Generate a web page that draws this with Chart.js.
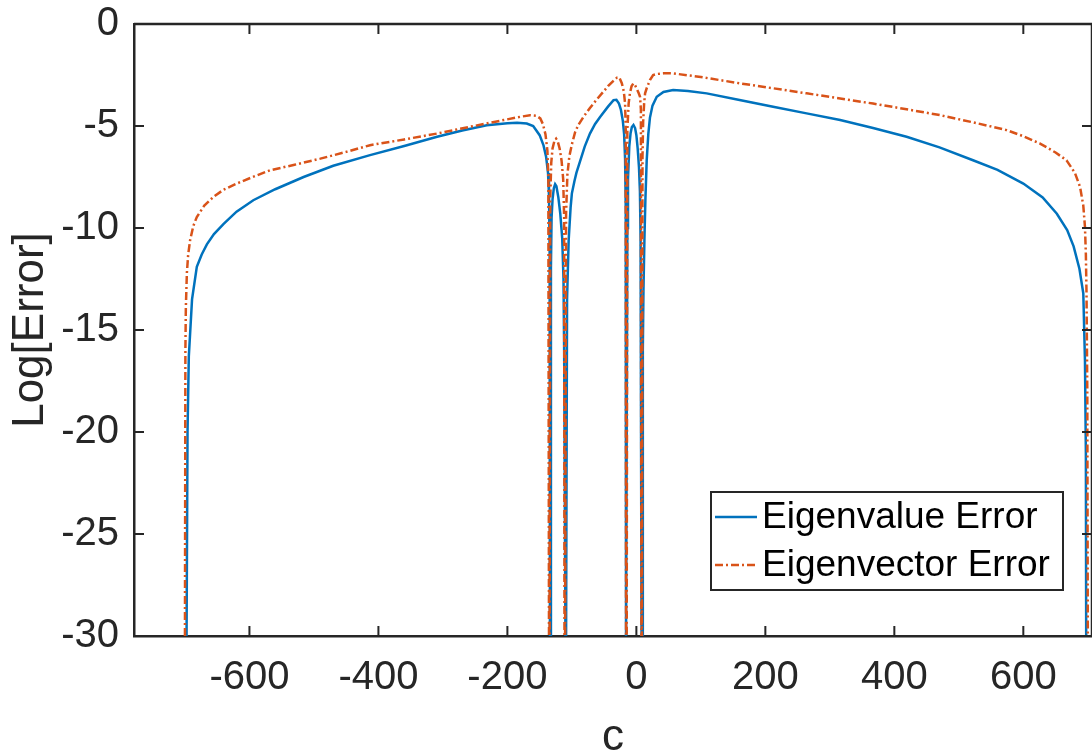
<!DOCTYPE html>
<html><head><meta charset="utf-8">
<script src="https://cdn.jsdelivr.net/npm/chart.js@4.4.1/dist/chart.umd.min.js"></script>
<style>html,body{margin:0;padding:0;background:#fff;}canvas{display:block;}</style>
</head><body>
<canvas id="c" width="1092" height="751"></canvas>
<script>
// ---- data ----
const eigenvalueC = [-697.5,-696,-694,-689,-681.6,-674,-666,-655,-640,-620,-594,-560,-516,-470,-413,-360,-309,-270,-232,-200,-185,-170,-160,-150,-144,-140,-137,-135.5,-134.5,-134,-133,-132.5,-131.5,-130,-128,-126,-124,-121,-118,-115,-113,-112,-110,-109,-107.5,-105,-102,-100,-96,-93,-87,-80,-72,-64,-56,-44,-35.5,-31,-27,-24,-21,-19,-17.5,-16.5,-16,-15,-14,-13,-11,-9,-7,-4.5,-2,0,2,4,5.5,6.5,8,9,10,11,12.5,14,16,18.5,21,25,31.6,42,57,80,109,160,212,264,316,367,419,470,522,560,600,630,652,668,678,687,693,695.6,697,697.5];
const eigenvalueErr = [-30,-20,-16.3,-13.5,-11.9,-11.3,-10.8,-10.3,-9.8,-9.2,-8.64,-8.1,-7.5,-6.95,-6.43,-5.98,-5.53,-5.22,-4.96,-4.86,-4.84,-4.88,-5.0,-5.45,-5.95,-6.5,-7.3,-8.4,-11,-30,-30,-12,-9.5,-8.6,-8.05,-7.85,-7.95,-8.5,-9.3,-10.5,-12.5,-16,-30,-30,-13.5,-10.6,-9.0,-8.3,-7.7,-7.3,-6.7,-6.0,-5.37,-4.9,-4.55,-4.05,-3.73,-3.72,-3.9,-4.2,-4.75,-5.4,-6.6,-9,-30,-30,-10,-7.6,-6.0,-5.35,-5.05,-4.95,-5.1,-5.45,-6.1,-7.0,-8.2,-10.5,-30,-30,-16,-13,-10.5,-8.6,-6.7,-5.4,-4.6,-4.0,-3.57,-3.33,-3.24,-3.28,-3.4,-3.73,-4.06,-4.38,-4.71,-5.1,-5.53,-6.05,-6.68,-7.15,-7.82,-8.5,-9.3,-10.1,-10.9,-12.0,-13.2,-16.5,-21,-30];

const eigenvectorC = [-700,-699.3,-698.6,-697,-695,-692,-687,-681.6,-670,-656,-640,-619.5,-595,-568,-530,-490,-450,-413,-360,-309,-260,-206,-180,-165,-155,-149,-145,-141,-138,-136.5,-135.5,-134.5,-133.5,-132,-130,-127,-124.5,-122,-119,-116,-113.5,-112,-111.5,-110.5,-109,-107,-104,-100,-95,-90,-82,-72,-62,-52,-44,-36,-30,-26.5,-22.6,-19.5,-17.5,-16.5,-16,-15,-14,-12,-10,-7.5,-4.6,-2,1,3.5,5.7,7,7.8,8.6,9.5,10.5,12,13.5,16,21,26,31.6,42,57,100,161,212,264,316,367,419,471,522,574,600,626,650,667,680,688,693,695.6,697,698,699.2,700];
const eigenvectorErr = [-30,-16,-13.9,-12.2,-11.3,-10.6,-9.9,-9.46,-8.9,-8.48,-8.12,-7.82,-7.5,-7.17,-6.9,-6.6,-6.27,-5.94,-5.66,-5.37,-5.05,-4.71,-4.55,-4.47,-4.5,-4.63,-4.9,-5.4,-6.2,-7.5,-30,-30,-8.5,-6.8,-6.1,-5.72,-5.62,-5.75,-6.1,-6.7,-7.6,-9.5,-30,-30,-9.3,-7.4,-6.5,-5.9,-5.3,-4.95,-4.55,-4.12,-3.72,-3.35,-3.05,-2.8,-2.63,-2.62,-2.9,-3.3,-3.9,-5.2,-30,-30,-5.2,-3.9,-3.4,-3.05,-2.91,-3.0,-3.2,-3.38,-3.57,-4.2,-30,-30,-6.5,-4.8,-3.9,-3.4,-3.15,-2.75,-2.5,-2.45,-2.42,-2.42,-2.6,-2.91,-3.15,-3.4,-3.65,-3.9,-4.18,-4.47,-4.82,-5.2,-5.5,-5.86,-6.3,-6.68,-7.3,-7.99,-8.9,-9.95,-11.3,-13.2,-18,-30];

const xTickValues = [-600,-400,-200,0,200,400,600];
const yTickValues = [-30,-25,-20,-15,-10,-5,0];
const seriesLabels = ['Eigenvalue Error','Eigenvector Error'];
const xTitle = 'c';
const yTitle = 'Log[Error]';

// ---- styling ----
const BLUE = '#0072BD', ORANGE = '#D95319', AXIS = '#262626';
const FONT = "'Liberation Sans', Arial, Helvetica, sans-serif";
const ORANGE_DASH = [8, 3, 2, 3];

function toPoints(xs, ys){ return xs.map((x,i)=>({x:x, y:ys[i]})); }

const boxPlugin = {
  id: 'matlabBox',
  afterDraw(chart){
    const ctx = chart.ctx, a = chart.chartArea;
    const xs = chart.scales.x, ys = chart.scales.y;
    ctx.save();
    ctx.strokeStyle = AXIS; ctx.lineWidth = 2.5;
    ctx.beginPath();
    ctx.moveTo(a.left, a.top); ctx.lineTo(a.right + 2, a.top);
    ctx.moveTo(a.right, a.top); ctx.lineTo(a.right, a.bottom);
    ctx.stroke();
    ctx.lineWidth = 2;
    const tl = 10;
    ctx.beginPath();
    xTickValues.forEach(v => {
      const px = xs.getPixelForValue(v);
      ctx.moveTo(px, a.bottom); ctx.lineTo(px, a.bottom - tl);
      ctx.moveTo(px, a.top); ctx.lineTo(px, a.top + tl);
    });
    yTickValues.forEach(v => {
      const py = ys.getPixelForValue(v);
      ctx.moveTo(a.left, py); ctx.lineTo(a.left + tl, py);
      ctx.moveTo(a.right, py); ctx.lineTo(a.right - tl, py);
    });
    ctx.stroke();

    // legend
    const L = {x: 711, y: 492, w: 352, h: 98};
    ctx.fillStyle = '#fff';
    ctx.fillRect(L.x, L.y, L.w, L.h);
    ctx.strokeStyle = AXIS; ctx.lineWidth = 2;
    ctx.strokeRect(L.x, L.y, L.w, L.h);
    const rows = [L.y + 25, L.y + 73];
    chart.data.datasets.forEach((ds, i) => {
      const y = rows[i];
      ctx.strokeStyle = ds.borderColor; ctx.lineWidth = ds.borderWidth;
      ctx.setLineDash(ds.borderDash || []);
      ctx.beginPath(); ctx.moveTo(L.x + 4, y); ctx.lineTo(L.x + 46, y); ctx.stroke();
      ctx.setLineDash([]);
      ctx.fillStyle = '#000';
      ctx.font = '37px ' + FONT;
      ctx.textBaseline = 'middle'; ctx.textAlign = 'left';
      ctx.fillText(ds.label, L.x + 51, y + 1);
    });
    ctx.restore();
  }
};

const chart = new Chart(document.getElementById('c'), {
  type: 'line',
  data: {
    datasets: [
      { label: seriesLabels[0], data: toPoints(eigenvalueC, eigenvalueErr),
        borderColor: BLUE, borderWidth: 2.5, pointRadius: 0, tension: 0, order: 1 },
      { label: seriesLabels[1], data: toPoints(eigenvectorC, eigenvectorErr),
        borderColor: ORANGE, borderWidth: 2.5, borderDash: ORANGE_DASH, pointRadius: 0, tension: 0, order: 0 }
    ]
  },
  options: {
    responsive: false, animation: false, devicePixelRatio: 1,
    layout: { padding: { top: 24, right: 0, bottom: 0, left: 0 } },
    plugins: { legend: { display: false }, tooltip: { enabled: false } },
    scales: {
      x: {
        type: 'linear', min: -779, max: 706.5,
        grid: { display: false, drawTicks: false },
        border: { display: true, color: AXIS, width: 2.5 },
        afterBuildTicks: s => { s.ticks = xTickValues.map(v => ({value: v})); },
        afterFit: s => { s.height = 115; s.paddingLeft = 0; s.paddingRight = 0; },
        ticks: { color: AXIS, font: { family: FONT, size: 40 }, padding: 18, maxRotation: 0, autoSkip: false },
        title: { display: true, text: xTitle, color: AXIS, font: { family: FONT, size: 44, lineHeight: 0.6 }, padding: { top: 0, bottom: 0 } }
      },
      y: {
        type: 'linear', min: -30, max: 0,
        grid: { display: false, drawTicks: false },
        border: { display: true, color: AXIS, width: 2.5 },
        afterBuildTicks: s => { s.ticks = yTickValues.map(v => ({value: v})); },
        afterFit: s => { s.width = 134; s.paddingTop = 0; s.paddingBottom = 0; },
        ticks: { color: AXIS, font: { family: FONT, size: 40 }, padding: 15, autoSkip: false },
        title: { display: true, text: yTitle, color: AXIS, font: { family: FONT, size: 44 }, padding: { top: 4, bottom: 0 } }
      }
    }
  },
  plugins: [boxPlugin]
});
</script>
</body></html>
